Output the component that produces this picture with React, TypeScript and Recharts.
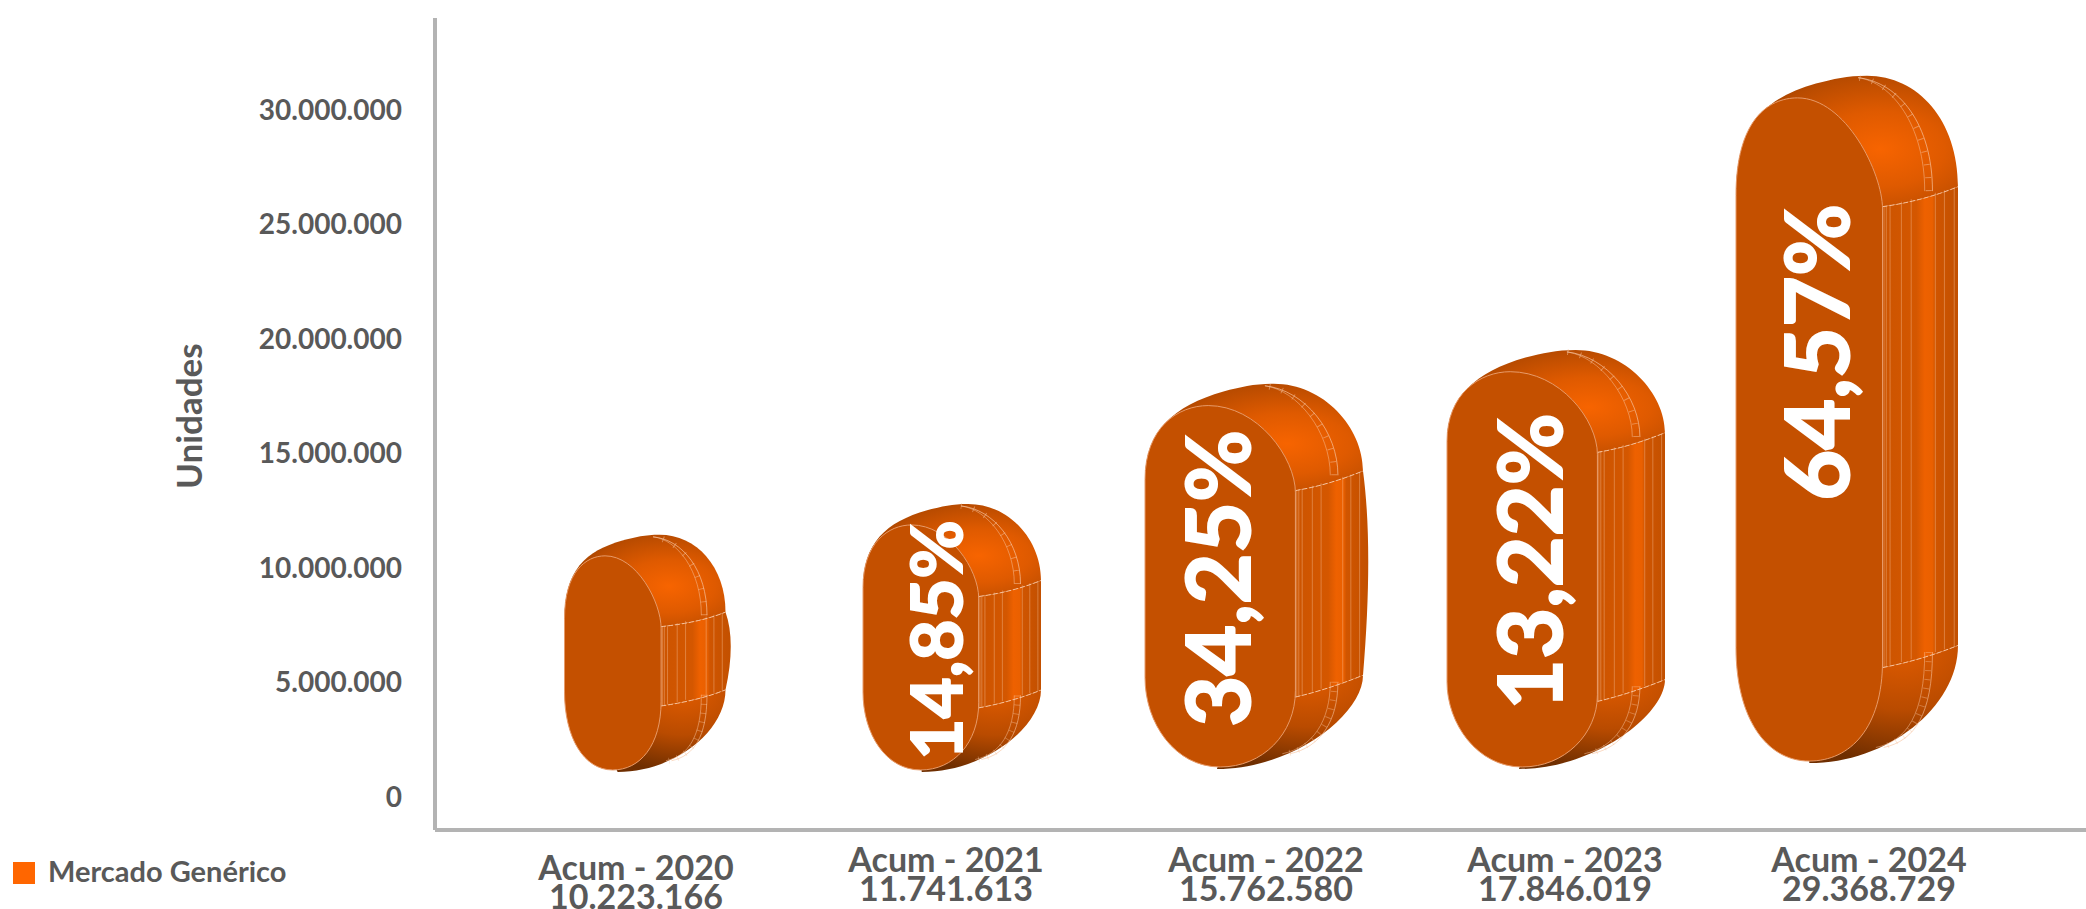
import React from 'react'
import { BarChart, Bar, XAxis, YAxis, Legend, LabelList } from 'recharts'

// values
const categories = ['Acum - 2020', 'Acum - 2021', 'Acum - 2022', 'Acum - 2023', 'Acum - 2024']
const totals = ['10.223.166', '11.741.613', '15.762.580', '17.846.019', '29.368.729']
const shapeBottom = [1080000, 1080000, 1210000, 1210000, 1470000]
const shapeTop = [11440000, 12790000, 18040000, 19520000, 31500000]
const growth = ['', '14,85%', '34,25%', '13,22%', '64,57%']
const yTicks = [0, 5000000, 10000000, 15000000, 20000000, 25000000, 30000000]

// per bar drawing tweaks, the source chart is a stretched 3D picture
const barWidths = [161, 178, 218, 218, 222]
const barShift = [-5, 0, 0, 0, -11]
const barBulge = [7, 0, 7, 0, 0]
const capRatio = [0.48, 0.43, 0.4, 0.38, 0.5]
const faceRatio = [0.6, 0.65, 0.69, 0.69, 0.66]
const tickShift = [-14, -6, 12, 9, 11]
const tickDrop = [8, 0, 0, 0, 0]
const labelShift = [0, 14, -4, 6, 6]
const labelDrop = [0, 2, 2, 2, -67]
const labelSize = [0, 71, 88, 88, 88]

const font = 'Lato'
const grey = '#595959'
const axisGrey = '#b3b3b3'

const data = categories.map((name, i) => ({
  name,
  total: totals[i],
  range: [shapeBottom[i], shapeTop[i]],
  growth: growth[i],
}))

const formatTick = (v: number) => v.toLocaleString('de-DE')

function Capsule(props: any) {
  const { x: bx, y, width: bw, height, index } = props
  const w = barWidths[index]
  const x = bx + bw / 2 - w / 2 + barShift[index]
  const bottom = y + height
  const cap = capRatio[index] * w
  const fw = w * faceRatio[index]
  const fr = x + fw
  const right = x + w
  const faceTop = y + Math.max(0.1 * w, 21)
  const faceBottom = bottom - 2
  const leftTop = y + cap + 0.04 * w
  const leftBottom = bottom - cap - 0.02 * w
  const rt = y + cap
  const rb = bottom - cap - 0.03 * w
  const bandTopL = rt + 0.09 * w
  const bandBotL = rb + 0.1 * w
  const bulge = barBulge[index]

  const topCap = `M${x},${leftTop} C${x},${y + 0.22 * w} ${x + 0.13 * w},${y + 0.1 * w} ${x + 0.36 * w},${y + 0.035 * w}
    C${x + 0.44 * w},${y + 0.015 * w} ${x + 0.5 * w},${y} ${x + 0.59 * w},${y}
    C${x + 0.82 * w},${y} ${right},${y + 0.2 * w} ${right},${rt}
    Q${x + 0.84 * w},${rt + 0.065 * w} ${fr},${bandTopL} L${x + fw / 2},${bandTopL} Z`
  const bottomCap = `M${fr},${bandBotL} Q${x + 0.84 * w},${rb + 0.065 * w} ${right},${rb}
    C${right},${bottom - 0.25 * w} ${x + 0.68 * w},${bottom} ${x + 0.33 * w},${bottom}
    L${x + fw / 2},${bottom - 10} Z`
  const band = `M${fr},${bandTopL} Q${x + 0.84 * w},${rt + 0.065 * w} ${right},${rt}
    C${right + bulge},${rt + 0.25 * (rb - rt)} ${right + bulge},${rt + 0.6 * (rb - rt)} ${right},${rb}
    Q${x + 0.84 * w},${rb + 0.065 * w} ${fr},${bandBotL} Z`
  const face = `M${x},${leftTop} C${x},${faceTop + 0.1 * w} ${x + fw * 0.22},${faceTop} ${x + fw * 0.42},${faceTop}
    C${x + fw * 0.75},${faceTop} ${fr},${leftTop - 0.1 * w} ${fr},${leftTop + 0.06 * w}
    L${fr},${leftBottom + 0.06 * w}
    C${fr},${faceBottom - 0.15 * w} ${x + fw * 0.78},${faceBottom} ${x + fw * 0.5},${faceBottom}
    C${x + fw * 0.2},${faceBottom} ${x},${faceBottom - 0.2 * w} ${x},${leftBottom} Z`

  const stitchOuter = 0.885
  const stitchInner = 0.85
  const stitchTop = (k: number) =>
    `M${x + k * w},${rt + 0.02 * w} C${x + k * w},${y + 0.22 * w} ${x + (k - 0.15) * w},${y + 0.03 * w} ${x + 0.55 * w},${y + 2}`
  const stitchBottom = (k: number) =>
    `M${x + k * w},${rb + 0.03 * w} C${x + k * w},${bottom - 0.22 * w} ${x + (k - 0.08) * w},${bottom - 0.1 * w} ${x + (k - 0.22) * w},${bottom - 0.07 * w}`
  const stripes = [0.02, 0.05, 0.1, 0.25, 0.38, 0.7, 0.82, 0.95].map(t => fr + t * (right - fr))
  const stripeTop = (px: number) => bandTopL + ((px - fr) / (right - fr)) * (rt - bandTopL)
  const stripeBot = (px: number) => bandBotL + ((px - fr) / (right - fr)) * (rb - bandBotL)
  const line = '#f7c29c'

  return (
    <g>
      <path d={band} fill="url(#bandFill)" />
      <path d={topCap} fill="url(#capTop)" />
      <path d={bottomCap} fill="url(#capBottom)" />
      {stripes.map((px, i) => (
        <line key={i} x1={px} x2={px} y1={stripeTop(px)} y2={stripeBot(px)} stroke={line} strokeOpacity={0.4} strokeWidth={1} />
      ))}
      <path d={`M${fr},${bandTopL} Q${x + 0.84 * w},${rt + 0.065 * w} ${right},${rt}`} fill="none" stroke={line} strokeDasharray="5 2" strokeWidth={1} />
      <path d={`M${fr},${bandBotL} Q${x + 0.84 * w},${rb + 0.065 * w} ${right},${rb}`} fill="none" stroke={line} strokeDasharray="5 2" strokeWidth={1} />
      <path d={stitchTop(stitchOuter)} fill="none" stroke={line} strokeOpacity={0.7} strokeWidth={1} />
      <path d={stitchTop(stitchInner)} fill="none" stroke={line} strokeOpacity={0.5} strokeWidth={1} />
      <path d={stitchTop(stitchOuter - 0.017)} fill="none" stroke={line} strokeOpacity={0.5} strokeWidth={6} strokeDasharray="1 12" />
      <path d={stitchBottom(stitchOuter)} fill="none" stroke={line} strokeOpacity={0.6} strokeWidth={1} />
      <path d={stitchBottom(stitchInner)} fill="none" stroke={line} strokeOpacity={0.5} strokeWidth={1} />
      <path d={stitchBottom(stitchOuter - 0.017)} fill="none" stroke={line} strokeOpacity={0.4} strokeWidth={6} strokeDasharray="1 8" />
      <path d={face} fill="#c45000" stroke="#e79a68" strokeWidth={1} />
    </g>
  )
}

function GrowthLabel(props: any) {
  const { x, y, width, height, value, index } = props
  if (!value) return null
  const w = barWidths[index]
  const left = x + width / 2 - w / 2 + barShift[index]
  const cx = left + (w * faceRatio[index]) / 2 + labelShift[index]
  const cy = y + height / 2 + labelDrop[index]
  return (
    <text
      x={cx}
      y={cy}
      transform={`rotate(-90 ${cx} ${cy})`}
      textAnchor="middle"
      dominantBaseline="central"
      fill="#ffffff"
      stroke="#ffffff"
      strokeWidth={2}
      fontFamily={font}
      fontWeight={700}
      fontSize={labelSize[index]}
    >
      {value}
    </text>
  )
}

function CategoryTick(props: any) {
  const { x, y, payload, index } = props
  const cx = x + tickShift[index]
  const top = y + tickDrop[index]
  return (
    <text x={cx} y={top} textAnchor="middle" fill={grey} fontFamily={font} fontWeight={700} fontSize={34}>
      <tspan x={cx} dy={34}>{payload.value}</tspan>
      <tspan x={cx} dy={29}>{totals[index]}</tspan>
    </text>
  )
}

export default function App() {
  return (
    <div style={{ position: 'absolute', left: 0, top: 0, width: 2086, height: 909, overflow: 'hidden', background: '#fff' }}>
      <BarChart
        width={2086}
        height={909}
        data={data}
        margin={{ top: 18, right: 0, bottom: 0, left: 0 }}
        barCategoryGap={0}
      >
        <defs>
          <radialGradient id="capTop" cx="0.65" cy="0.56" r="0.72">
            <stop offset="0" stopColor="#f76400" />
            <stop offset="0.4" stopColor="#df5a00" />
            <stop offset="0.78" stopColor="#b84b00" />
            <stop offset="1" stopColor="#8a3c00" />
          </radialGradient>
          <radialGradient id="capBottom" cx="0.62" cy="0" r="1">
            <stop offset="0" stopColor="#e25c00" />
            <stop offset="0.55" stopColor="#b94b00" />
            <stop offset="1" stopColor="#6f2e00" />
          </radialGradient>
          <linearGradient id="bandFill" x1="0" y1="0" x2="1" y2="0">
            <stop offset="0" stopColor="#cc5400" />
            <stop offset="0.45" stopColor="#d45700" />
            <stop offset="0.56" stopColor="#ee6100" />
            <stop offset="0.66" stopColor="#ea6000" />
            <stop offset="0.7" stopColor="#d05500" />
            <stop offset="1" stopColor="#c25000" />
          </linearGradient>
        </defs>
        <XAxis
          dataKey="name"
          axisLine={{ stroke: axisGrey, strokeWidth: 4 }}
          tickLine={false}
          tick={<CategoryTick />}
          interval={0}
          height={79}
          padding={{ left: 64, right: 77 }}
        />
        <YAxis
          type="number"
          width={435}
          domain={[-1455000, 34020000]}
          ticks={yTicks}
          interval={0}
          allowDataOverflow
          axisLine={{ stroke: axisGrey, strokeWidth: 4 }}
          tickLine={false}
          tickMargin={27}
          tickFormatter={formatTick}
          tick={{ fill: grey, fontFamily: font, fontWeight: 700, fontSize: 28 }}
          label={{
            value: 'Unidades',
            angle: -90,
            position: 'insideLeft',
            offset: 190,
            dy: 65,
            fill: grey,
            fontFamily: font,
            fontWeight: 700,
            fontSize: 35,
          }}
        />
        <Legend
          layout="vertical"
          align="center"
          verticalAlign="middle"
          iconType="square"
          iconSize={22}
          wrapperStyle={{ left: 13, top: 848, width: 320 }}
          formatter={(value: string) => (
            <span style={{ color: grey, fontFamily: font, fontWeight: 700, fontSize: 29, marginLeft: 9, position: 'relative', top: 5 }}>{value}</span>
          )}
        />
        <Bar
          dataKey="range"
          name="Mercado Genérico"
          fill="#ff6600"
          barSize={218}
          shape={<Capsule />}
          isAnimationActive={false}
        >
          <LabelList dataKey="growth" content={<GrowthLabel />} />
        </Bar>
      </BarChart>
    </div>
  )
}
